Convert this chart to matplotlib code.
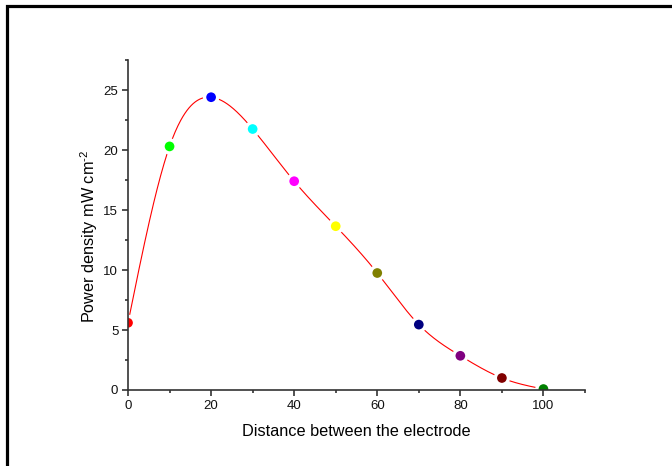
import numpy as np
import matplotlib
matplotlib.use("Agg")
import matplotlib.pyplot as plt
from matplotlib.patches import Rectangle

# ---- data ----
distance = [0, 10, 20, 30, 40, 50, 60, 70, 80, 90, 100]
power_density = [5.6, 20.3, 24.4, 21.75, 17.4, 13.65, 9.75, 5.45, 2.85, 1.0, 0.08]
point_colors = ["#FF0000", "#00FF00", "#0000FF", "#00FFFF", "#FF00FF", "#FFFF00",
                "#808000", "#000080", "#800080", "#800000", "#008000"]
x_ticks = [0, 20, 40, 60, 80, 100]
y_ticks = [0, 5, 10, 15, 20, 25]

plt.rcParams['font.family'] = ['Liberation Sans', 'DejaVu Sans']
plt.rcParams['mathtext.fontset'] = 'custom'
plt.rcParams['mathtext.rm'] = 'Liberation Sans'
plt.rcParams['mathtext.it'] = 'Liberation Sans'
plt.rcParams['mathtext.bf'] = 'Liberation Sans'


def natural_spline(x, y, xs):
    x = np.asarray(x, float)
    y = np.asarray(y, float)
    n = len(x)
    h = np.diff(x)
    A = np.zeros((n, n))
    b = np.zeros(n)
    A[0, 0] = 1
    A[-1, -1] = 1
    for i in range(1, n - 1):
        A[i, i - 1] = h[i - 1]
        A[i, i] = 2 * (h[i - 1] + h[i])
        A[i, i + 1] = h[i]
        b[i] = 3 * ((y[i + 1] - y[i]) / h[i] - (y[i] - y[i - 1]) / h[i - 1])
    c = np.linalg.solve(A, b)
    out = np.empty_like(xs)
    for k, xv in enumerate(xs):
        i = min(np.searchsorted(x, xv, side='right') - 1, n - 2)
        i = max(i, 0)
        dx = xv - x[i]
        bi = (y[i + 1] - y[i]) / h[i] - h[i] * (2 * c[i] + c[i + 1]) / 3
        di = (c[i + 1] - c[i]) / (3 * h[i])
        out[k] = y[i] + bi * dx + c[i] * dx ** 2 + di * dx ** 3
    return out


fig = plt.figure(figsize=(6.72, 4.66), dpi=100)
ax = fig.add_axes([0.1905, 0.1631, 0.6800, 0.7081])

xs = np.linspace(distance[0], distance[-1], 600)
ys = natural_spline(distance, power_density, xs)
ax.plot(xs, ys, color="#FF0000", lw=0.8, zorder=1.5)

ax.scatter(distance, power_density, c=point_colors, s=9.4 ** 2,
           edgecolors="white", linewidths=2.4, zorder=2)

ax.set_xlim(0, 110)
ax.set_ylim(0, 27.5)
ax.set_xticks(x_ticks)
ax.set_yticks(y_ticks)
ax.set_xticks(np.arange(10, 111, 20), minor=True)
ax.set_yticks(np.arange(2.5, 27.6, 5), minor=True)

for s in ["top", "right"]:
    ax.spines[s].set_visible(False)
for s in ["left", "bottom"]:
    ax.spines[s].set_color("#333333")
    ax.spines[s].set_linewidth(1.2)

ax.tick_params(which="major", direction="out", length=4, width=1.2,
               color="#333333", labelsize=9.5, labelcolor="#111111", pad=3)
ax.tick_params(which="minor", direction="out", length=2.5, width=1.2,
               color="#333333")

ax.set_xlabel("Distance between the electrode", fontsize=11.7, labelpad=9)
ax.set_ylabel(r"Power density mW cm$^{\text{-}2}$", fontsize=11.7)
ax.yaxis.set_label_coords(-0.061, 0.467)

# figure border (top and left edges)
fig.patches.append(Rectangle((6.5 / 672, -0.2), 1.2, 1.2 - 5.5 / 466,
                             transform=fig.transFigure, fill=False,
                             edgecolor="black", linewidth=2.3, figure=fig))

fig.savefig("out.png", dpi=100)
